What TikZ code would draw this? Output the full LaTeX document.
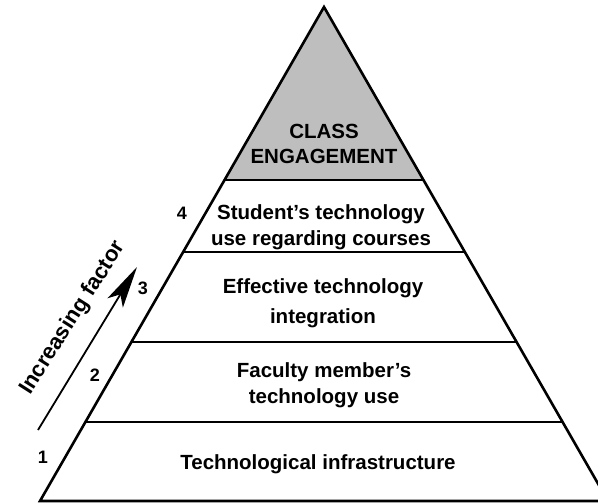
\documentclass[tikz,border=0pt]{standalone}
\usepackage{fontspec}
\setmainfont{Liberation Sans}
\usetikzlibrary{calc,arrows.meta}

\definecolor{topgray}{RGB}{190,190,190}

\begin{document}
\begin{tikzpicture}[x=1pt,y=-1pt,line join=miter]
		\tikzstyle{level}=[font=\fontsize{20.5}{25.5}\selectfont\bfseries,align=center,inner sep=1pt]
		\tikzstyle{step no}=[font=\fontsize{18}{20}\selectfont\bfseries,inner sep=1pt]
		\tikzstyle{edge line}=[line width=2.6pt]
		
		\clip (0,0) rectangle (598,504);
		
		% Corners of the pyramid
		\coordinate (top) at (324,7);
		\coordinate (bl) at (40,501);
		\coordinate (br) at (608,501);
		
		% Grey top part
		\fill[topgray] (top) -- ($(top)!0.3502!(bl)$) -- ($(top)!0.3502!(br)$) -- cycle;
		
		% Dividing lines between the levels
		\foreach \f in {0.3502,0.4960,0.6781,0.8401}
			\draw[edge line] ($(top)!\f!(bl)$) -- ($(top)!\f!(br)$);
		
		% Outline
		\draw[edge line] (bl) -- (top) -- (br) -- cycle;
		
		% Level texts
		\node[level] (L5) at (324,144) {CLASS\\ENGAGEMENT};
		\node[level] (L4) at (321,227) {Student's technology\\use regarding courses};
		\node[level] (L3) at (323,303) {Effective technology\\[4pt]integration};
		\node[level] (L2) at (324,385) {Faculty member's\\technology use};
		\node[level] (L1) at (318,464) {Technological infrastructure};
		
		% Numbers on the left side
		\foreach \name / \x / \y in {1/43/457,2/95/375,3/143/288,4/182/213}
			\node[step no] (N-\name) at (\x,\y) {\name};
		
		% Arrow with its label
		\coordinate (a0) at (38,430);
		\coordinate (a1) at (137,267);
		\draw[line width=1.8pt,-{Stealth[length=42pt,width=18pt,inset=10pt]}] (a0) -- (a1);
		\node[level,font=\fontsize{22}{26}\selectfont\bfseries,rotate=57.5] (inc) at (73,318) {Increasing factor};
	\end{tikzpicture}
\end{document}
